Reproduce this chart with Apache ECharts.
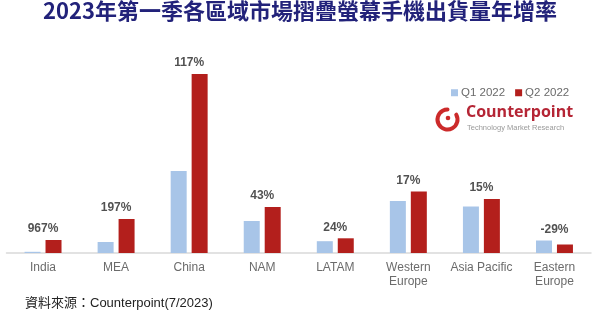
<!DOCTYPE html>
<html>
<head>
<meta charset="utf-8">
<script src="https://cdn.jsdelivr.net/npm/echarts@6/dist/echarts.min.js"></script>
<style>
  html, body { margin: 0; padding: 0; background: #fff; }
  #chart { width: 600px; height: 323px; }
</style>
</head>
<body>
<div id="chart"></div>
<script>
// Regions on the x axis
const regions = ['India', 'MEA', 'China', 'NAM', 'LATAM', 'Western\nEurope', 'Asia Pacific', 'Eastern\nEurope'];
// Foldable shipments per region (relative index)
const q1_2022 = [1.2, 11, 82, 32, 11.8, 52, 46.5, 12.5];
const q2_2022 = [13, 34, 179, 46, 14.7, 61.5, 54, 8.5];
// Year-on-year growth labels shown above each region
const growthLabels = ['967%', '197%', '117%', '43%', '24%', '17%', '15%', '-29%'];
const seriesNames = ['Q1 2022', 'Q2 2022'];

const latin = 'Liberation Sans, Arial, Noto Sans CJK TC, sans-serif';
const cjk = 'Noto Sans CJK TC, Liberation Sans, sans-serif';

// growth label sits above the taller bar of each pair
const labelAnchors = regions.map((r, i) => ({
  value: Math.max(q1_2022[i], q2_2022[i]),
  label: { formatter: growthLabels[i] }
}));

const chart = echarts.init(document.getElementById('chart'), null, { renderer: 'canvas' });
chart.setOption({
  animation: false,
  backgroundColor: '#ffffff',
  grid: { left: 6.5, right: 9, top: 53, bottom: 70 },
  legend: {
    data: seriesNames,
    left: 446, top: 82,
    itemWidth: 7, itemHeight: 7, itemGap: 10,
    icon: 'rect',
    textStyle: { fontFamily: latin, fontSize: 11.5, color: '#6a6a6a', padding: [0, 0, 0, -2] }
  },
  xAxis: {
    type: 'category',
    data: regions,
    axisLine: { lineStyle: { color: '#d9d9d9', width: 1.5 } },
    axisTick: { show: false },
    axisLabel: { fontFamily: latin, fontSize: 12, color: '#6b6b6b', margin: 8, lineHeight: 14, interval: 0 }
  },
  yAxis: { type: 'value', min: 0, max: 200, show: false, splitLine: { show: false } },
  series: [
    {
      name: seriesNames[0], type: 'bar', data: q1_2022,
      barWidth: 16, barGap: '31%',
      itemStyle: { color: '#a8c5e8' }
    },
    {
      name: seriesNames[1], type: 'bar', data: q2_2022,
      barWidth: 16,
      itemStyle: { color: '#b31f1c' }
    },
    {
      type: 'scatter', data: labelAnchors,
      symbolSize: 0, silent: true,
      label: {
        show: true, position: 'top', distance: 5,
        fontFamily: latin, fontSize: 12, fontWeight: 'bold', color: '#262626'
      }
    }
  ],
  graphic: [
    {
      type: 'text', left: 'center', top: 0,
      style: { text: '2023年第一季各區域市場摺疊螢幕手機出貨量年增率', fontFamily: cjk, fontSize: 22, fontWeight: 'bold', fill: '#22227a' }
    },
    {
      type: 'text', left: 25, top: 297,
      style: { text: '資料來源：Counterpoint(7/2023)', fontFamily: latin, fontSize: 13, fill: '#222222' }
    },
    // Counterpoint mark: open ring with a dot
    {
      type: 'arc', shape: { cx: 447.5, cy: 119.5, r: 10, startAngle: -Math.PI * 0.16, endAngle: -Math.PI * 0.5, clockwise: true },
      style: { stroke: '#cc2a2a', lineWidth: 4, fill: null, lineCap: 'round' }
    },
    {
      type: 'circle', shape: { cx: 448, cy: 118, r: 2.3 },
      style: { fill: '#cc2a2a' }
    },
    {
      type: 'text', left: 466, top: 104,
      style: { text: 'Counterpoint', fontFamily: 'Open Sans, sans-serif', fontSize: 16, fontWeight: 'bold', fill: '#b52535' }
    },
    {
      type: 'text', left: 467, top: 124,
      style: { text: 'Technology Market Research', fontFamily: latin, fontSize: 7.5, fill: '#9a9a9a' }
    }
  ]
});
</script>
</body>
</html>
